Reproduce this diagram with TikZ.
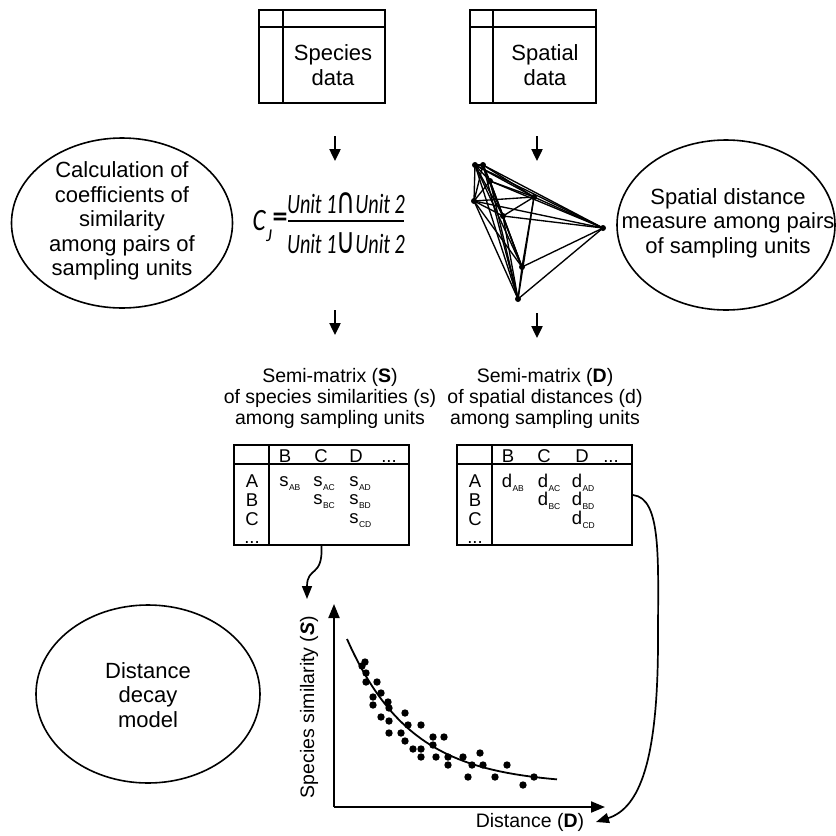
\documentclass[tikz,border=0pt]{standalone}
\usepackage{fontspec}
\setmainfont{Liberation Sans}
\newfontfamily\formfont{Carlito}
\newfontfamily\symfont{DejaVu Sans}
\usetikzlibrary{arrows.meta,shapes.geometric,calc}
\newcommand\mentry[5]{%
  \node[cellt,anchor=base] (#1) at (#3,#4) {#2};
  \node[subt,anchor=west,yshift=-2pt] (#1s) at (#1.base east) {#5};}
\begin{document}
\begin{tikzpicture}[x=1pt,y=-1pt,
  datatab/.style={draw,line width=1.8pt,minimum width=126pt,minimum height=93pt,inner sep=0pt},
  mattab/.style={draw,line width=1.8pt,minimum width=175pt,minimum height=100pt,inner sep=0pt},
  ell/.style={draw,ellipse,line width=1.6pt,inner sep=0pt},
  elltext/.style={align=center,font=\fontsize{22}{24.5}\selectfont,inner sep=0pt},
  boxtext/.style={align=center,font=\fontsize{22}{25}\selectfont,inner sep=0pt},
  labtext/.style={align=center,font=\fontsize{19.5}{21}\selectfont,inner sep=0pt},
  cellt/.style={font=\fontsize{18.5}{18.5}\selectfont,inner sep=0pt},
  subt/.style={font=\fontsize{8.5}{8.5}\selectfont,inner sep=0pt},
  formt/.style={font=\fontsize{28}{28}\selectfont\formfont\itshape,inner sep=0pt},
  flow/.style={-{Triangle[length=12pt,width=11pt]},line width=2.4pt},
  curvearrow/.style={-{Triangle[length=13pt,width=10pt]},line width=1.7pt},
  axis/.style={-{Triangle[length=14pt,width=11pt]},line width=2pt},
  netline/.style={line width=1.35pt}]
\useasboundingbox (0,0) rectangle (836,836);

% ---- data tables (icons)
\node[datatab] (sptab) at (322,56.5) {};
\draw[line width=1.8pt] ([yshift=-18pt]sptab.north west) -- ([yshift=-18pt]sptab.north east);
\draw[line width=1.8pt] ([xshift=25pt]sptab.north west) -- ([xshift=25pt]sptab.south west);
\node[boxtext] (sptext) at (333,65.5) {Species\\data};

\node[datatab] (sttab) at (533,56.5) {};
\draw[line width=1.8pt] ([yshift=-18pt]sttab.north west) -- ([yshift=-18pt]sttab.north east);
\draw[line width=1.8pt] ([xshift=24pt]sttab.north west) -- ([xshift=24pt]sttab.south west);
\node[boxtext] (sttext) at (545,65.5) {Spatial\\data};

% ---- down arrows
\coordinate (a1s) at (335,136); \coordinate (a1e) at (335,161);
\coordinate (a2s) at (537,136); \coordinate (a2e) at (537,161);
\coordinate (a3s) at (335,310); \coordinate (a3e) at (335,335);
\coordinate (a4s) at (537,313); \coordinate (a4e) at (537,338);
\draw[flow] (a1s) -- (a1e);
\draw[flow] (a2s) -- (a2e);
\draw[flow] (a3s) -- (a3e);
\draw[flow] (a4s) -- (a4e);

% ---- ellipses
\node[ell,minimum width=221pt,minimum height=170pt] (e1) at (122,223) {};
\node[elltext] (e1t) at (122,221) {Calculation of\\coefficients of\\similarity\\among pairs of\\sampling units};
\node[ell,minimum width=218pt,minimum height=170pt] (e2) at (726,225) {};
\node[elltext] (e2t) at (728,223) {Spatial distance\\measure among pairs\\of sampling units};
\node[ell,minimum width=224pt,minimum height=178pt] (e3) at (148,694) {};
\node[elltext] (e3t) at (148,695) {Distance\\decay\\model};

% ---- formula
\node[formt,font=\fontsize{31}{31}\selectfont\formfont\itshape] (cj) at (259,221) {\scalebox{0.8}[1]{C}};
\node[font=\fontsize{18}{18}\selectfont\formfont\itshape,inner sep=0pt] (cjs) at (269,236) {J};
\node[font=\fontsize{30}{30}\selectfont\formfont\bfseries,inner sep=0pt] (eq) at (280,220) {=};
\node[formt] (num) at (346,203) {\scalebox{0.72}[1]{Unit 1{\symfont\upshape\fontsize{36}{36}\selectfont ∩}Unit 2}};
\node[formt] (den) at (346,243) {\scalebox{0.72}[1]{Unit 1{\symfont\upshape\fontsize{36}{36}\selectfont ∪}Unit 2}};
\coordinate (barl) at (288,221); \coordinate (barr) at (404,221);
\draw[line width=2.2pt] (barl) -- (barr);

% ---- spatial network
\coordinate (p1) at (475,165);
\coordinate (p2) at (483,165);
\coordinate (p3) at (490,181);
\coordinate (p4) at (474,201);
\coordinate (p5) at (534,197);
\coordinate (p6) at (503,216);
\coordinate (p7) at (603,228);
\coordinate (p8) at (522,267);
\coordinate (p9) at (518,299);
\foreach \i in {1,...,8}{%
  \pgfmathtruncatemacro\ni{\i+1}%
  \foreach \j in {\ni,...,9}{\draw[netline] (p\i) -- (p\j);}}
\foreach \i in {1,...,9}{\fill (p\i) circle (3);}

% ---- semi-matrix labels
\node[labtext] (slab) at (330,398) {Semi-matrix (\textbf{S})\\of species similarities (s)\\among sampling units};
\node[labtext] (dlab) at (545,398) {Semi-matrix (\textbf{D})\\of spatial distances (d)\\among sampling units};

% ---- semi-matrix tables
\node[mattab] (stab) at (321.5,495) {};
\draw[line width=1.8pt] ([yshift=-19.5pt]stab.north west) -- ([yshift=-19.5pt]stab.north east);
\draw[line width=1.8pt] ([xshift=36pt]stab.north west) -- ([xshift=36pt]stab.south west);
\node[mattab] (dtab) at (544.5,495) {};
\draw[line width=1.8pt] ([yshift=-19.5pt]dtab.north west) -- ([yshift=-19.5pt]dtab.north east);
\draw[line width=1.8pt] ([xshift=36pt]dtab.north west) -- ([xshift=36pt]dtab.south west);

% headers S
\node[cellt,anchor=base] (shB) at (285,462) {B};
\node[cellt,anchor=base] (shC) at (321,462) {C};
\node[cellt,anchor=base] (shD) at (356,462) {D};
\node[cellt,anchor=base] (shE) at (389,462) {...};
\node[cellt,anchor=base] (srA) at (252,487) {A};
\node[cellt,anchor=base] (srB) at (252,506) {B};
\node[cellt,anchor=base] (srC) at (252,525) {C};
\node[cellt,anchor=base] (srE) at (252,543) {...};
% headers D
\node[cellt,anchor=base] (dhB) at (508,462) {B};
\node[cellt,anchor=base] (dhC) at (544,462) {C};
\node[cellt,anchor=base] (dhD) at (582,462) {D};
\node[cellt,anchor=base] (dhE) at (611,462) {...};
\node[cellt,anchor=base] (drA) at (475,487) {A};
\node[cellt,anchor=base] (drB) at (475,506) {B};
\node[cellt,anchor=base] (drC) at (475,525) {C};
\node[cellt,anchor=base] (drE) at (475,543) {...};

% entries
\mentry{sAB}{s}{284}{486}{AB}
\mentry{sAC}{s}{318}{486}{AC}
\mentry{sBC}{s}{318}{504}{BC}
\mentry{sAD}{s}{354}{486}{AD}
\mentry{sBD}{s}{354}{504}{BD}
\mentry{sCD}{s}{354}{523}{CD}
\mentry{dAB}{d}{507}{487}{AB}
\mentry{dAC}{d}{543}{487}{AC}
\mentry{dBC}{d}{543}{505}{BC}
\mentry{dAD}{d}{577}{487}{AD}
\mentry{dBD}{d}{577}{505}{BD}
\mentry{dCD}{d}{577}{524}{CD}

% ---- plot
\coordinate (orig) at (334,807);
\coordinate (ytip) at (334,604);
\coordinate (xtip) at (605,807);
\draw[axis] (orig) -- (ytip);
\draw[axis] (orig) -- (xtip);
\draw[line width=1.8pt] plot[domain=347:557,samples=60,smooth] (\x,{785-146*exp(-0.0155*(\x-347))});
\foreach \px/\py in {365/662,362/666,366/673,366/682,377/682,381/693,373/697,373/705,
  388/702,389/708,381/717,389/721,405/713,408/725,421/725,389/733,401/733,405/741,
  433/737,444/737,433/745,413/749,421/749,421/757,436/757,448/757,448/765,463/757,
  480/753,472/765,483/765,468/777,495/777,507/765,523/785,534/777}
  {\fill (\px,\py) circle (3.7);}
\node[labtext,rotate=90] (ylab) at (309,707) {Species similarity (\textbf{\textit{S}})};
\node[labtext] (xlab) at (530,822) {Distance (\textbf{D})};

% ---- curved arrows
\coordinate (c1e) at (307,599);
\draw[curvearrow] (stab.south) .. controls (323,578) and (307,566) .. (c1e);
\coordinate (c2m) at (658,640);
\coordinate (c2e) at (596,822);
\draw[curvearrow] (dtab.east) .. controls (662,498) and (658,560) .. (c2m)
  .. controls (658,760) and (640,808) .. (c2e);
\end{tikzpicture}
\end{document}
